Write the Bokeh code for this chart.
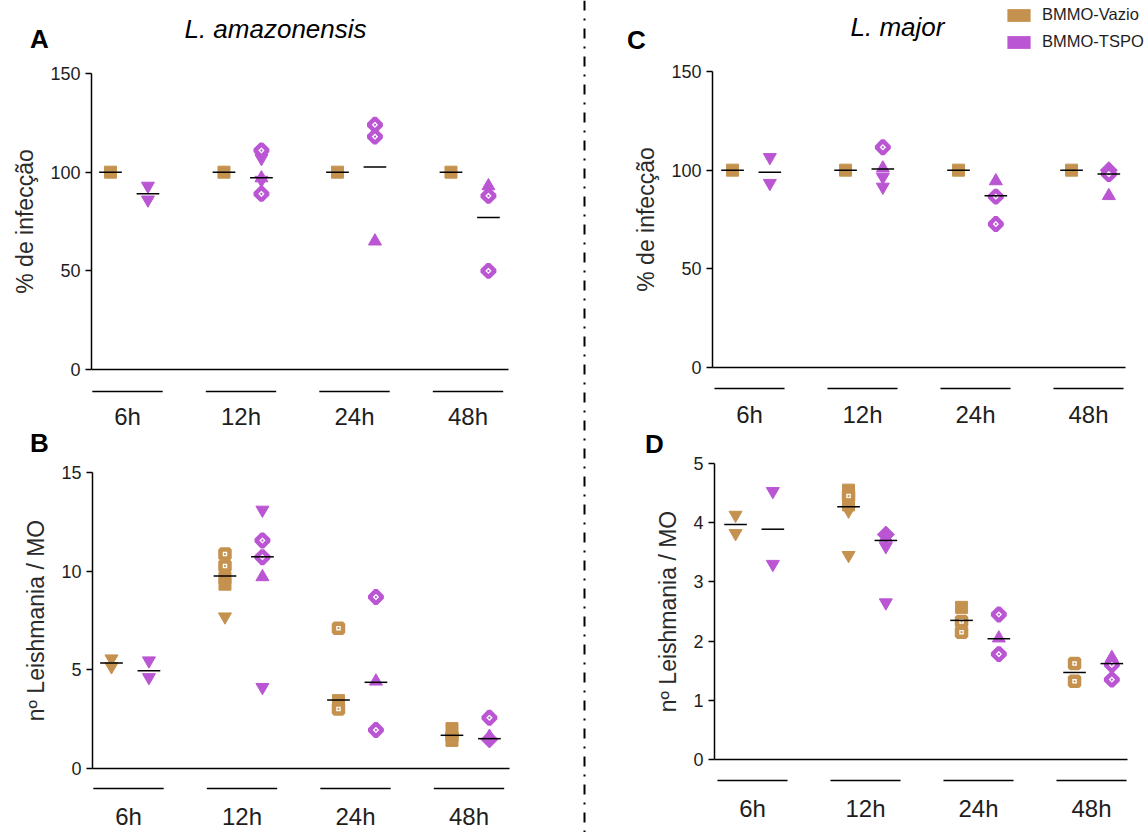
import numpy as np
from bokeh.plotting import figure
from bokeh.models import (Range1d, FixedTicker, Span, Label, Legend, LegendItem,
                          ColumnDataSource, LinearAxis)
from bokeh.layouts import row, column
from bokeh.embed import file_html
from bokeh.resources import INLINE

# ---------------- data ----------------
times = ["6h", "12h", "24h", "48h"]
group_names = ["BMMO-Vazio", "BMMO-TSPO"]

# Panel A: % de infecção, L. amazonensis
A_vazio_vals = [[100], [100], [100], [100]]
A_vazio_mk = [["sq"], ["sq"], ["sq"], ["sq"]]
A_vazio_line = [100, 100, 100, 100]
A_tspo_vals = [[93, 86], [111, 107, 97, 96, 89], [124, 118, 65], [93, 88, 50]]
A_tspo_mk = [["td", "td"], ["dd", "td", "tu", "td", "dd"], ["dd", "dd", "tu"], ["tu", "dd", "dd"]]
A_tspo_line = [89, 97.2, 102.6, 77]

# Panel B: nº Leishmania / MO, L. amazonensis
B_vazio_vals = [[5.55, 5.15], [10.86, 10.25, 9.65, 9.33, 7.68], [7.1, 3.42, 3.0], [2.0, 1.6, 1.4]]
B_vazio_mk = [["td", "td"], ["sqd", "sqd", "sq", "sq", "td"], ["sqd", "sq", "sqd"], ["sq", "sqd", "sq"]]
B_vazio_line = [5.33, 9.74, 3.45, 1.66]
B_tspo_vals = [[5.45, 4.6], [13.1, 11.55, 10.7, 9.7, 4.1], [8.68, 4.4, 1.93], [2.55, 1.6, 1.45]]
B_tspo_mk = [["td", "td"], ["td", "dd", "dd", "tu", "td"], ["dd", "tu", "dd"], ["dd", "tu", "di"]]
B_tspo_line = [4.94, 10.72, 4.35, 1.49]

# Panel C: % de infecção, L. major
C_vazio_vals = [[100], [100], [100], [100]]
C_vazio_mk = [["sq"], ["sq"], ["sq"], ["sq"]]
C_vazio_line = [100, 100, 100, 100]
C_tspo_vals = [[106.5, 93.4], [111.6, 101, 96.5, 91.5], [94.5, 86.6, 72.7], [100, 98, 87]]
C_tspo_mk = [["td", "td"], ["dd", "tu", "td", "td"], ["tu", "dd", "dd"], ["di", "dd", "tu"]]
C_tspo_line = [98.9, 100.6, 87.0, 98.0]

# Panel D: nº Leishmania / MO, L. major
D_vazio_vals = [[4.13, 3.82], [4.55, 4.45, 4.3, 4.2, 3.45], [2.57, 2.33, 2.15], [1.62, 1.32]]
D_vazio_mk = [["td", "td"], ["sq", "sqd", "sq", "td", "td"], ["sq", "sqd", "sqd"], ["sqd", "sqd"]]
D_vazio_line = [3.97, 4.27, 2.35, 1.47]
D_tspo_vals = [[4.53, 3.3], [3.8, 3.75, 3.6, 2.65], [2.45, 2.05, 1.78], [1.72, 1.6, 1.35]]
D_tspo_mk = [["td", "td"], ["di", "tu", "td", "td"], ["dd", "tu", "dd"], ["tu", "dd", "dd"]]
D_tspo_line = [3.89, 3.70, 2.04, 1.62]

pct_ticks = [0, 50, 100, 150]
count_ticks_B = [0, 5, 10, 15]
count_ticks_D = [0, 1, 2, 3, 4, 5]

# ---------------- styles ----------------
VAZIO = "#C4924E"
TSPO = "#BA55D3"
FONT = "Liberation Sans"
INK = "#1e1e1e"
OFF_V, OFF_T = -0.15, 0.18
HALF_LINE = 0.1
HALF_BAR = 0.31
LABEL_DROP = 12  # px between axis location and glyph top of category labels

MARKER_STYLE = {
    "sq": dict(marker="square", size=12, hollow=False, angle=0.0, lw=1.0),
    "sqd": dict(marker="square_dot", size=9, hollow=True, angle=0.0, lw=4.5),
    "tu": dict(marker="triangle", size=13, hollow=False, angle=0.0, lw=1.0),
    "td": dict(marker="inverted_triangle", size=13, hollow=False, angle=0.0, lw=1.0),
    "dd": dict(marker="square_dot", size=9, hollow=True, angle=np.pi / 4, lw=4.5),
    "di": dict(marker="square", size=12, hollow=False, angle=np.pi / 4, lw=1.0),
}


def series_source(vals, mks, offset, color):
    d = dict(x=[], y=[], marker=[], size=[], fill=[], lw=[], angle=[])
    for i, (vv, mm) in enumerate(zip(vals, mks)):
        for v, k in zip(vv, mm):
            st = MARKER_STYLE[k]
            d["x"].append(i + offset)
            d["y"].append(v)
            d["marker"].append(st["marker"])
            d["size"].append(st["size"])
            d["fill"].append("white" if st["hollow"] else color)
            d["lw"].append(st["lw"])
            d["angle"].append(st["angle"])
    return ColumnDataSource(d)


def build_panel(g, vz_vals, vz_mk, vz_line, ts_vals, ts_mk, ts_line,
                yticks, ylabel, letter, title=None, legend=False):
    def dx(px):
        return (px - g["c0"]) / g["s"]

    def dy(py):
        return (g["y0p"] - py) / g["ppu"]

    W, H = g["W"], g["H"]
    p = figure(width=W, height=H,
               x_range=Range1d(dx(g["fx"]), dx(g["fx"] + W)),
               y_range=Range1d(dy(g["fy"] + H), dy(g["fy"])),
               x_axis_location=None, y_axis_location=None, min_border=0,
               toolbar_location=None, output_backend="svg")
    p.outline_line_color = None
    p.grid.visible = False
    p.background_fill_color = "white"
    p.border_fill_color = "white"

    ax_x = dx(g["axis_px"])
    ax_end = dx(g["axis_end_px"])

    # y axis
    yax = LinearAxis(fixed_location=ax_x, ticker=FixedTicker(ticks=yticks),
                     bounds=(yticks[0], yticks[-1]))
    yax.axis_line_width = 1.5
    yax.axis_line_color = "black"
    yax.major_tick_line_width = 1.5
    yax.major_tick_out = 6
    yax.major_tick_in = 0
    yax.minor_tick_line_color = None
    yax.major_label_standoff = 5
    yax.major_label_text_font = FONT
    yax.major_label_text_font_size = "18px"
    yax.major_label_text_color = INK
    yax.axis_label = ylabel
    yax.axis_label_text_font = FONT
    yax.axis_label_text_font_size = "23px"
    yax.axis_label_text_font_style = "normal"
    yax.axis_label_text_color = "#2a2a2a"
    yax.axis_label_standoff = 9
    p.add_layout(yax, "left")

    # baseline at y = 0
    base = LinearAxis(fixed_location=0, ticker=FixedTicker(ticks=[]), bounds=(ax_x, ax_end))
    base.axis_line_width = 1.5
    base.axis_line_color = "black"
    base.major_tick_line_color = None
    base.minor_tick_line_color = None
    base.major_label_text_font_size = "0px"
    p.add_layout(base, "below")

    # category labels
    cat = LinearAxis(fixed_location=dy(g["label_top"] - LABEL_DROP),
                     ticker=FixedTicker(ticks=list(range(len(times)))))
    cat.major_label_overrides = {i: t for i, t in enumerate(times)}
    cat.axis_line_color = None
    cat.major_tick_line_color = None
    cat.minor_tick_line_color = None
    cat.major_label_standoff = 0
    cat.major_label_text_font = FONT
    cat.major_label_text_font_size = "24px"
    cat.major_label_text_color = INK
    p.add_layout(cat, "below")

    # group bars under each category
    idx = np.arange(len(times))
    by = dy(g["bar_py"])
    p.segment(x0=idx - HALF_BAR, x1=idx + HALF_BAR,
              y0=[by] * len(times), y1=[by] * len(times),
              line_color="black", line_width=1.5)

    # points
    for vals, mks, off, col in ((vz_vals, vz_mk, OFF_V, VAZIO), (ts_vals, ts_mk, OFF_T, TSPO)):
        src = series_source(vals, mks, off, col)
        p.scatter(x="x", y="y", marker="marker", size="size", angle="angle",
                  fill_color="fill", line_color=col, line_width="lw", source=src)

    # central lines
    for line, off in ((vz_line, OFF_V), (ts_line, OFF_T)):
        p.segment(x0=idx + off - HALF_LINE, x1=idx + off + HALF_LINE,
                  y0=line, y1=line, line_color="black", line_width=1.5)

    lx, ly = g["letter_at"]
    p.add_layout(Label(x=dx(lx), y=dy(ly), text=letter, text_font=FONT,
                       text_font_size="26px", text_font_style="bold", text_color="black",
                       text_align="center", text_baseline="middle"))
    if title is not None:
        tx, ty = g["title_at"]
        p.add_layout(Label(x=dx(tx), y=dy(ty), text=title, text_font=FONT,
                           text_font_size="26px", text_font_style="italic",
                           text_color="black", text_align="center", text_baseline="middle"))
    if legend:
        # zero-height bars at each time point: invisible in the plot, they carry the legend swatches
        rv = p.vbar(x=idx + OFF_V, top=0, bottom=0, width=0.2,
                    fill_color=VAZIO, line_color=None)
        rt = p.vbar(x=idx + OFF_T, top=0, bottom=0, width=0.2,
                    fill_color=TSPO, line_color=None)
        lg = Legend(items=[LegendItem(label=group_names[0], renderers=[rv]),
                           LegendItem(label=group_names[1], renderers=[rt])],
                    location=g["legend_loc"])
        lg.glyph_width = 29
        lg.glyph_height = 16
        lg.label_height = 16
        lg.label_standoff = 9
        lg.spacing = 8
        lg.padding = 0
        lg.margin = 0
        lg.border_line_color = None
        lg.background_fill_alpha = 0
        lg.label_text_font = FONT
        lg.label_text_font_size = "16.5px"
        lg.label_text_color = INK
        p.add_layout(lg)
    return p


TOP_H, BOT_H = 428, 404
LEFT_W, DIV_W, RIGHT_W = 580, 8, 559

geoA = dict(fx=0, fy=0, W=LEFT_W, H=TOP_H, c0=127, s=113.5, y0p=369, ppu=296 / 150,
            axis_px=91, axis_end_px=508, bar_py=391, label_top=408,
            letter_at=(39, 38), title_at=(275, 28))
geoB = dict(fx=0, fy=TOP_H, W=LEFT_W, H=BOT_H, c0=128, s=113.5, y0p=767.5, ppu=295.5 / 15,
            axis_px=92, axis_end_px=509, bar_py=788, label_top=808,
            letter_at=(39, 442))
geoC = dict(fx=LEFT_W + DIV_W, fy=0, W=RIGHT_W, H=TOP_H, c0=749, s=113, y0p=367, ppu=296 / 150,
            axis_px=712, axis_end_px=1125, bar_py=388, label_top=406,
            letter_at=(636, 39), title_at=(897, 26), legend_loc=(416, 377))
geoD = dict(fx=LEFT_W + DIV_W, fy=TOP_H, W=RIGHT_W, H=BOT_H, c0=752, s=113, y0p=759, ppu=296 / 5,
            axis_px=714, axis_end_px=1127, bar_py=780, label_top=800,
            letter_at=(654, 443))

pA = build_panel(geoA, A_vazio_vals, A_vazio_mk, A_vazio_line, A_tspo_vals, A_tspo_mk,
                 A_tspo_line, pct_ticks, "% de infecção", "A", title="L. amazonensis")
pB = build_panel(geoB, B_vazio_vals, B_vazio_mk, B_vazio_line, B_tspo_vals, B_tspo_mk,
                 B_tspo_line, count_ticks_B, "nº Leishmania / MO", "B")
pC = build_panel(geoC, C_vazio_vals, C_vazio_mk, C_vazio_line, C_tspo_vals, C_tspo_mk,
                 C_tspo_line, pct_ticks, "% de infecção", "C", title="L. major", legend=True)
pD = build_panel(geoD, D_vazio_vals, D_vazio_mk, D_vazio_line, D_tspo_vals, D_tspo_mk,
                 D_tspo_line, count_ticks_D, "nº Leishmania / MO", "D")

# vertical dash-dot divider
div = figure(width=DIV_W, height=TOP_H + BOT_H, x_range=Range1d(-1, 1), y_range=Range1d(0, 1),
             min_border=0, toolbar_location=None, output_backend="svg")
div.axis.visible = False
div.grid.visible = False
div.outline_line_color = None
div.add_layout(Span(location=0, dimension="height", line_color="black",
                    line_width=2, line_dash="10 8 2 8"))

layout = row(column(pA, pB), div, column(pC, pD))
open("out.html", "w").write(file_html(layout, INLINE))
